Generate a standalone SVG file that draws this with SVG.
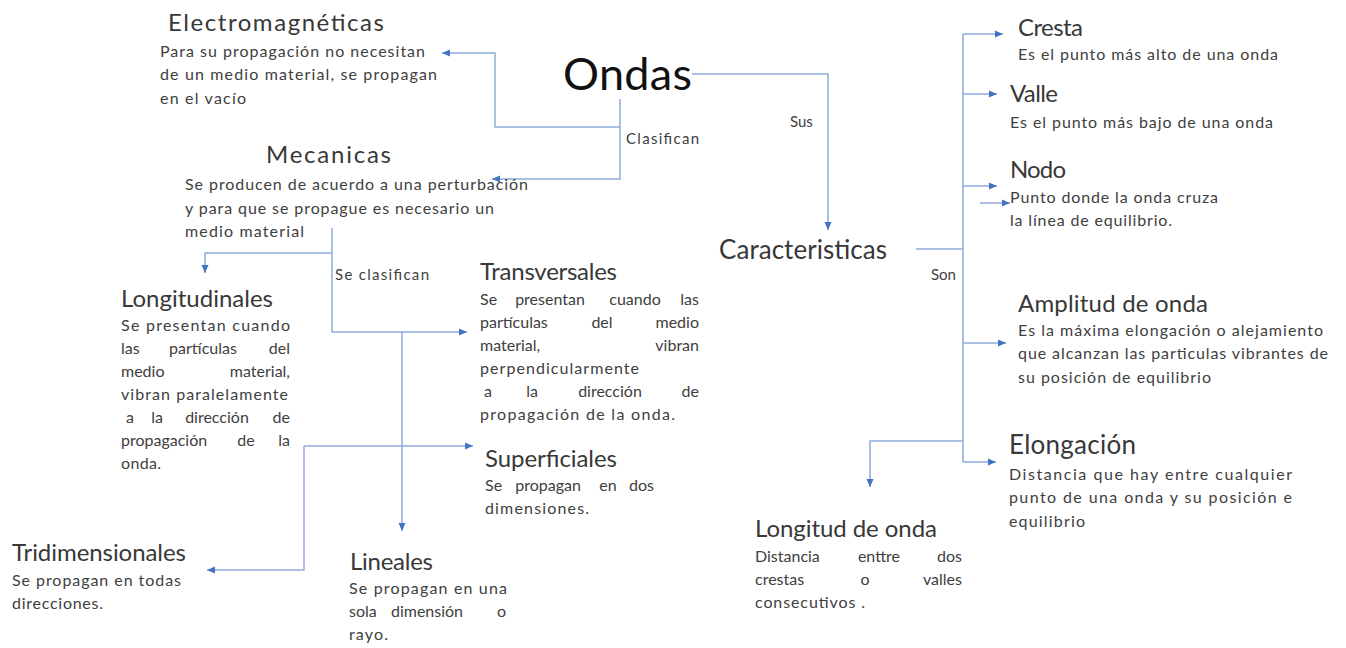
<svg xmlns="http://www.w3.org/2000/svg" width="1346" height="648" viewBox="0 0 1346 648">
<style>
text{font-family:Lato,"Open Sans",sans-serif;}
.t{font-size:24px;fill:#383838;}
.tb{font-size:26px;fill:#383838;}
.d{font-size:16px;fill:#404040;}
.l{font-size:15px;fill:#404040;}
.e{text-anchor:end;}
.m{text-anchor:middle;}
.c path{fill:none;stroke:#8faadc;stroke-width:1.5;}
.c path.a{marker-end:url(#ah);}
</style>
<defs>
<marker id="ah" markerWidth="9" markerHeight="8" refX="8" refY="4" orient="auto" markerUnits="userSpaceOnUse">
<path d="M0,0.5 L8,4 L0,7.5 z" fill="#4472c4"/>
</marker>
</defs>
<rect width="1346" height="648" fill="#ffffff"/>
<g class="c" id="connectors">
<path class="a" d="M692,74 H828 V230"/>
<path class="a" d="M620,99 V179 H492"/>
<path class="a" d="M620,127 H495 V53 H442"/>
<path class="a" d="M332,228 V332 H467"/>
<path class="a" d="M332,253 H205 V273"/>
<path class="a" d="M402,332 V531"/>
<path class="a" d="M304,446 H473"/>
<path class="a" d="M304,446 V570 H207"/>
<path d="M916,249 H963"/>
<path d="M963,34 V462"/>
<path class="a" d="M963,34 H1003"/>
<path class="a" d="M963,94 H997"/>
<path class="a" d="M963,186 H997"/>
<path class="a" d="M980,203 H1010"/>
<path class="a" d="M963,343 H1006"/>
<path class="a" d="M963,462 H996"/>
<path class="a" d="M963,441 H870 V487"/>
</g>
<g id="labels">
<text class="l" x="626" y="144" textLength="73" lengthAdjust="spacing">Clasifican</text>
<text class="l" x="790" y="127">Sus</text>
<text class="l" x="335" y="280" textLength="94" lengthAdjust="spacing">Se clasifican</text>
<text class="l" x="931" y="280">Son</text>
</g>
<g id="ondas">
<text x="563" y="90" style="font-size:45px;fill:#111" textLength="129" lengthAdjust="spacing">Ondas</text>
</g>
<g id="electromagneticas">
<text class="t" x="168" y="31" textLength="216" lengthAdjust="spacing">Electromagnéticas</text>
<text class="d" x="160" y="57" textLength="265" lengthAdjust="spacing">Para su propagación no necesitan</text>
<text class="d" x="160" y="80" textLength="277" lengthAdjust="spacing">de un medio material, se propagan</text>
<text class="d" x="160" y="104" textLength="86" lengthAdjust="spacing">en el vacío</text>
</g>
<g id="mecanicas">
<text class="t" x="266" y="163" textLength="125" lengthAdjust="spacing">Mecanicas</text>
<text class="d" x="185" y="190" textLength="343" lengthAdjust="spacing">Se producen de acuerdo a una perturbación</text>
<text class="d" x="185" y="214" textLength="309" lengthAdjust="spacing">y para que se propague es necesario un</text>
<text class="d" x="185" y="237" textLength="119" lengthAdjust="spacing">medio material</text>
</g>
<g id="longitudinales">
<text class="t" x="121" y="307" textLength="152" lengthAdjust="spacing">Longitudinales</text>
<text class="d" x="121" y="331" textLength="169" lengthAdjust="spacing">Se presentan cuando</text>
<text class="d" x="121" y="354">las</text><text class="d m" x="203" y="354">partículas</text><text class="d e" x="290" y="354">del</text>
<text class="d" x="121" y="377">medio</text><text class="d e" x="290" y="377">material,</text>
<text class="d" x="121" y="400" textLength="167" lengthAdjust="spacing">vibran paralelamente</text>
<text class="d" x="126" y="423">a</text><text class="d m" x="157" y="423">la</text><text class="d m" x="217" y="423">dirección</text><text class="d e" x="290" y="423">de</text>
<text class="d" x="121" y="446">propagación</text><text class="d m" x="246" y="446">de</text><text class="d e" x="290" y="446">la</text>
<text class="d" x="121" y="469" textLength="40" lengthAdjust="spacing">onda.</text>
</g>
<g id="transversales">
<text class="t" x="480" y="280" textLength="137" lengthAdjust="spacing">Transversales</text>
<text class="d" x="480" y="305">Se</text><text class="d m" x="550" y="305">presentan</text><text class="d m" x="635" y="305">cuando</text><text class="d e" x="699" y="305">las</text>
<text class="d" x="480" y="328">partículas</text><text class="d m" x="602" y="328">del</text><text class="d e" x="699" y="328">medio</text>
<text class="d" x="480" y="351">material,</text><text class="d e" x="699" y="351">vibran</text>
<text class="d" x="480" y="374" textLength="159" lengthAdjust="spacing">perpendicularmente</text>
<text class="d" x="484" y="397">a</text><text class="d m" x="532" y="397">la</text><text class="d m" x="610" y="397">dirección</text><text class="d e" x="699" y="397">de</text>
<text class="d" x="480" y="420" textLength="195" lengthAdjust="spacing">propagación de la onda.</text>
</g>
<g id="superficiales">
<text class="t" x="485" y="467" textLength="132" lengthAdjust="spacing">Superficiales</text>
<text class="d" x="485" y="491">Se</text><text class="d m" x="548" y="491">propagan</text><text class="d m" x="608" y="491">en</text><text class="d e" x="654" y="491">dos</text>
<text class="d" x="485" y="514" textLength="104" lengthAdjust="spacing">dimensiones.</text>
</g>
<g id="tridimensionales">
<text class="t" x="12" y="561" textLength="174" lengthAdjust="spacing">Tridimensionales</text>
<text class="d" x="12" y="586" textLength="169" lengthAdjust="spacing">Se propagan en todas</text>
<text class="d" x="12" y="609" textLength="91" lengthAdjust="spacing">direcciones.</text>
</g>
<g id="lineales">
<text class="t" x="350" y="570" textLength="83" lengthAdjust="spacing">Lineales</text>
<text class="d" x="349" y="594" textLength="158" lengthAdjust="spacing">Se propagan en una</text>
<text class="d" x="349" y="617">sola</text><text class="d m" x="427" y="617">dimensión</text><text class="d e" x="506" y="617">o</text>
<text class="d" x="349" y="640" textLength="39" lengthAdjust="spacing">rayo.</text>
</g>
<g id="caracteristicas">
<text class="tb" x="719" y="259" textLength="168" lengthAdjust="spacing">Caracteristicas</text>
</g>
<g id="cresta">
<text class="t" x="1018" y="36" textLength="65" lengthAdjust="spacing">Cresta</text>
<text class="d" x="1018" y="60" textLength="260" lengthAdjust="spacing">Es el punto más alto de una onda</text>
</g>
<g id="valle">
<text class="t" x="1010" y="102" textLength="48" lengthAdjust="spacing">Valle</text>
<text class="d" x="1010" y="128" textLength="263" lengthAdjust="spacing">Es el punto más bajo de una onda</text>
</g>
<g id="nodo">
<text class="t" x="1010" y="178" textLength="56" lengthAdjust="spacing">Nodo</text>
<text class="d" x="1010" y="203" textLength="208" lengthAdjust="spacing">Punto donde la onda cruza</text>
<text class="d" x="1010" y="226" textLength="162" lengthAdjust="spacing">la línea de equilibrio.</text>
</g>
<g id="amplitud">
<text class="t" x="1018" y="312" textLength="190" lengthAdjust="spacing">Amplitud de onda</text>
<text class="d" x="1018" y="336" textLength="305" lengthAdjust="spacing">Es la máxima elongación o alejamiento</text>
<text class="d" x="1018" y="359" textLength="310" lengthAdjust="spacing">que alcanzan las particulas vibrantes de</text>
<text class="d" x="1018" y="383" textLength="193" lengthAdjust="spacing">su posición de equilibrio</text>
</g>
<g id="elongacion">
<text class="tb" x="1009" y="454" textLength="127" lengthAdjust="spacing">Elongación</text>
<text class="d" x="1009" y="480" textLength="283" lengthAdjust="spacing">Distancia que hay entre cualquier</text>
<text class="d" x="1009" y="503" textLength="283" lengthAdjust="spacing">punto de una onda y su posición e</text>
<text class="d" x="1009" y="527" textLength="76" lengthAdjust="spacing">equilibrio</text>
</g>
<g id="longitud">
<text class="t" x="755" y="537" textLength="182" lengthAdjust="spacing">Longitud de onda</text>
<text class="d" x="755" y="562">Distancia</text><text class="d m" x="879" y="562">enttre</text><text class="d e" x="962" y="562">dos</text>
<text class="d" x="755" y="585">crestas</text><text class="d m" x="865" y="585">o</text><text class="d e" x="962" y="585">valles</text>
<text class="d" x="755" y="608" textLength="110" lengthAdjust="spacing">consecutivos .</text>
</g>
</svg>
